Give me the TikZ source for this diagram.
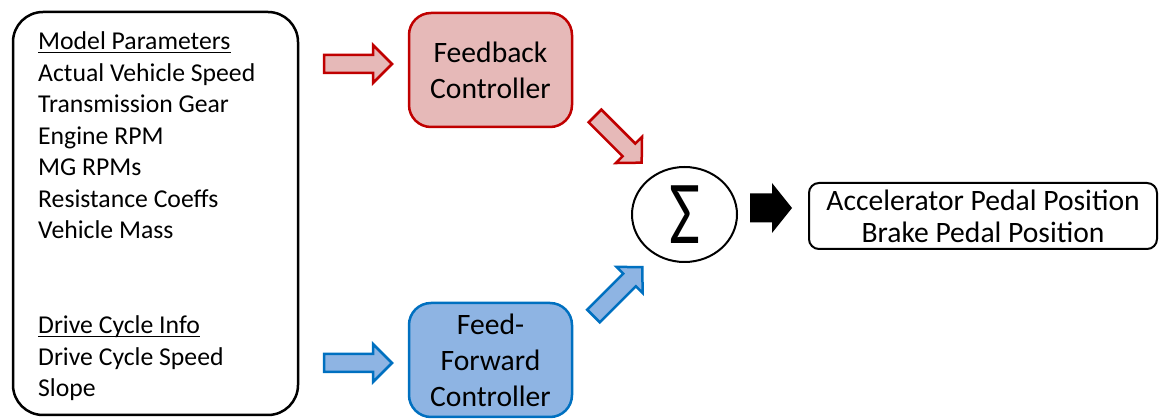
\documentclass[tikz,border=0pt]{standalone}
\usepackage{fontspec}
\setmainfont{Carlito}
\usepackage{graphicx}
\usetikzlibrary{shapes.geometric}
\definecolor{fbfill}{HTML}{E6B9B8}
\definecolor{fbline}{HTML}{C00000}
\definecolor{fffill}{HTML}{8EB4E3}
\definecolor{ffline}{HTML}{0070C0}
\tikzset{
  pics/blockarrow/.style n args={4}{code={
    \path[pic actions] (0,-#2/2) -- (#1-#4,-#2/2) -- (#1-#4,-#3/2) -- (#1,0)
      -- (#1-#4,#3/2) -- (#1-#4,#2/2) -- (0,#2/2) -- cycle;
  }}
}
\begin{document}
\begin{tikzpicture}[x=1pt,y=-1pt,
  every node/.style={inner sep=0pt},
  item/.style={anchor=base west, font=\fontsize{25.7}{31.5}\selectfont},
  ulined/.style={line width=1.3pt},
  panel/.style={draw, line width=2.5pt, rounded corners=30pt},
  ctrl/.style={draw, line width=2.5pt, rounded corners=22pt, minimum width=163pt,
    minimum height=114pt, align=center, font=\fontsize{29.6}{36}\selectfont},
  fbbox/.style={ctrl, draw=fbline, fill=fbfill},
  ffbox/.style={ctrl, draw=ffline, fill=fffill},
  redarrow/.style={draw=fbline, fill=fbfill, line width=2.5pt, miter limit=10},
  bluearrow/.style={draw=ffline, fill=fffill, line width=2.5pt, miter limit=10},
  blackarrow/.style={fill=black},
  sumnode/.style={ellipse, draw, line width=2pt, minimum width=105pt, minimum height=95pt},
  outbox/.style={draw, line width=2pt, rounded corners=10pt, minimum width=348pt,
    minimum height=66pt, align=center, font=\fontsize{29.6}{32}\selectfont}
]
\useasboundingbox (0,0) rectangle (1160,419);

% input panel
\node[panel, minimum width=285pt, minimum height=403pt] (params) at (155.5,213.5) {};
\node[item] (mp)  at (38,50)    {Model Parameters};
\node[item] (avs) at (38,81.5)  {Actual Vehicle Speed};
\node[item] (tg)  at (38,113)   {Transmission Gear};
\node[item] (er)  at (38,144.5) {Engine RPM};
\node[item] (mg)  at (38,176)   {MG RPMs};
\node[item] (rc)  at (38,207.5) {Resistance Coeffs};
\node[item] (vm)  at (38,239)   {Vehicle Mass};
\node[item] (dci) at (38,334)   {Drive Cycle Info};
\node[item] (dcs) at (38,365.5) {Drive Cycle Speed};
\node[item] (sl)  at (38,397)   {Slope};
\draw[ulined] ([yshift=-2.5pt]mp.base west) -- ([yshift=-2.5pt]mp.base east);
\draw[ulined] ([yshift=-2.5pt]dci.base west) -- ([yshift=-2.5pt]dci.base east);

% controllers
\node[fbbox] (fb) at (490.5,70) {Feedback\\Controller};
\node[ffbox] (ff) at (490.5,360) {Feed-\\Forward\\Controller};

% summing junction and output
\node[sumnode] (sum) at (684.5,214.5)
  {\raisebox{-2pt}{\scalebox{0.75}[1]{\fontsize{90}{90}\selectfont Σ}}};
\node[outbox] (out) at (983,216) {Accelerator Pedal Position\\Brake Pedal Position};

% block arrows
\coordinate (fbin)  at (324,64);
\coordinate (ffin)  at (324,363);
\coordinate (fbout) at (595,116);
\coordinate (ffout) at (593.5,316);
\coordinate (sumout) at (750,208);
\pic[redarrow]  at (fbin)  {blockarrow={68}{18}{38}{19}};
\pic[bluearrow] at (ffin)  {blockarrow={68}{18}{38}{19}};
\pic[redarrow, rotate=-45] at (fbout) {blockarrow={66}{18}{37}{18}};
\pic[bluearrow, rotate=45] at (ffout) {blockarrow={69}{18}{37}{18}};
\pic[blackarrow] at (sumout) {blockarrow={42}{29}{50}{20}};
\end{tikzpicture}
\end{document}
